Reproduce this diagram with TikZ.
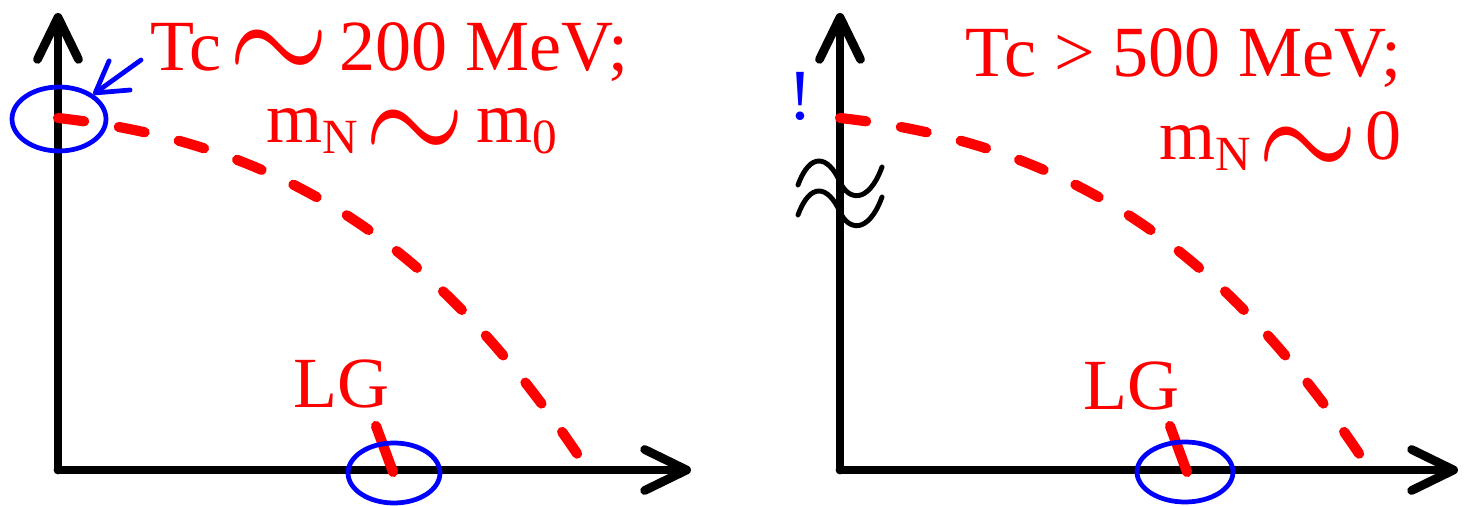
\RequirePackage{fix-cm}
\documentclass[tikz,border=0pt]{standalone}
\usepackage{fontspec}
\setmainfont{Liberation Serif}
\usetikzlibrary{arrows.meta,shapes.geometric}

\newcommand\bigsim[1]{\smash{\raisebox{#1}{\scalebox{1.8}[2.1]{$\sim$}}}}
\newcommand\lowidx[1]{\raisebox{-5.7pt}{\fontsize{28}{28}\selectfont #1}}

\begin{document}
\begin{tikzpicture}[x=0.02cm,y=-0.02cm,
    axis/.style={line width=5pt,line cap=round,-{Straight Barb[round,length=0.84cm,width=0.82cm]}},
    curve/.style={red,line width=5.8pt,line cap=round,dash pattern=on 15pt off 20pt},
    ring/.style={draw=blue,line width=2.7pt,ellipse,inner sep=0pt},
    pointer/.style={blue,line width=2.7pt,line cap=round,-{Straight Barb[round,length=0.6cm,width=0.72cm]}},
    lab/.style={red,font=\fontsize{41}{44}\selectfont,inner sep=0pt},
    brk/.style={line width=2.8pt,line cap=round}]
  \useasboundingbox (0,0) rectangle (1464,506);

  % left panel
  \coordinate (o1) at (58,470);
  \draw[axis] (o1) -- (58,13);
  \draw[axis] (o1) -- (691,470);
  \draw[curve] (58,118) .. controls (300,145) and (450,260) .. (588,470);
  \draw[red,line width=5.8pt,line cap=round] (376,426) -- (393,472);
  \node[ring,minimum width=1.88cm,minimum height=1.28cm] (tcring) at (59,119) {};
  \node[ring,minimum width=1.84cm,minimum height=1.2cm] (lgring1) at (394,473) {};
  \coordinate (tcfrom) at (141,60);
  \draw[pointer] (tcfrom) -- (tcring);
  \node[lab,anchor=base west] (tcleft) at (150,71) {Tc\hspace{4pt}\bigsim{-8pt}\hspace{6pt}200 MeV;};
  \node[lab,anchor=base west] (mleft) at (266,143) {m\lowidx{N}\hspace{4pt}\bigsim{-13pt}\hspace{6pt}m\lowidx{0}};
  \node[lab,anchor=base west] (lgleft) at (293,408) {LG};

  % right panel
  \coordinate (o2) at (840,470);
  \draw[axis] (o2) -- (840,13);
  \draw[axis] (o2) -- (1458,470);
  \draw[curve] (840,118) .. controls (1082,145) and (1232,260) .. (1370,470);
  \draw[red,line width=5.8pt,line cap=round] (1170,426) -- (1187,472);
  \node[ring,minimum width=1.92cm,minimum height=1.2cm] (lgring2) at (1185,472) {};
  \draw[brk] (798,185) .. controls (810,152) and (828,155) .. (840,182) .. controls (848,200) and (868,205) .. (882,167);
  \draw[brk] (798,215) .. controls (810,182) and (828,185) .. (840,212) .. controls (848,230) and (868,235) .. (882,197);
  \node[lab,text=blue,anchor=base] (bang) at (800,120) {!};
  \node[lab,anchor=base east] (tcright) at (1402,77) {Tc > 500 MeV;};
  \node[lab,anchor=base east] (mright) at (1402,160) {m\lowidx{N}\hspace{4pt}\bigsim{-13pt}\hspace{4pt}0};
  \node[lab,anchor=base west] (lgright) at (1083,410) {LG};
\end{tikzpicture}
\end{document}
